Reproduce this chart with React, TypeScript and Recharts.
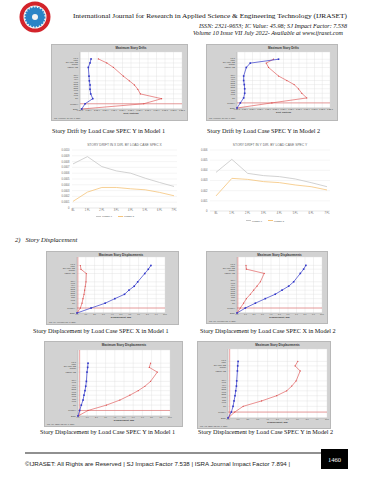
import React from 'react'
import {
  ScatterChart,
  Scatter,
  LineChart,
  Line,
  XAxis,
  YAxis,
  CartesianGrid,
  ReferenceLine,
} from 'recharts'

// ---------------------------------------------------------------------------
// Story data (bottom to top)
// ---------------------------------------------------------------------------

const STORIES = ['Base', 'PLINTH', 'GF', '1ST FLR', '2ND FLR', '3RD FLR', '4TH FLR', '5TH FLR', 'TERRACE', 'STAIRCASE ROOF', 'LIFT TOP']
const STORY_ELEV = [0, 3.4, 6.7, 9.8, 12.8, 15.6, 18.3, 21.3, 27, 29.9, 32.5]
const PLINTH_ELEV = 3.4

const DRIFT_TICKS = [0, 0.0001, 0.0002, 0.0003, 0.0004, 0.0005, 0.0006, 0.0007, 0.0008, 0.0009, 0.001, 0.0011, 0.0012]
const DISP_TICKS = [0, 1, 2, 3, 4, 5, 6, 7, 8, 9, 10]

// Story drift, SPEC Y
const DRIFT_M1_X = [0.00002, 0.00006, 0.00015, 0.000126, 0.000118, 0.000118, 0.00011, 0.000106, 0.000098, 0.000118, 0.00013]
const DRIFT_M1_Y = [0.00002, 0.00075, 0.00096, 0.00071, 0.00068, 0.00064, 0.00058, 0.00051, 0.000393, 0.000315, 0.000216]
const DRIFT_M2_X = [0, 0.000043, 0.000086, 0.000099, 0.000099, 0.000094, 0.000086, 0.000086, 0.00012, 0.000171, 0.000536]
const DRIFT_M2_Y = [0, 0.00045, 0.0009, 0.000836, 0.000793, 0.000737, 0.000643, 0.000536, 0.000407, 0.000377, 0.000471]

// Story displacement (mm)
const DISP_SX_M1_X = [0, 1.6, 3.2, 4.3, 5.4, 5.9, 6.5, 6.9, 7.7, 8.1, 8.4]
const DISP_SX_M1_Y = [0, 0.38, 0.57, 0.68, 0.8, 0.87, 0.94, 1.02, 1.06, 0.45, 0.38]
const DISP_SX_M2_X = [0, 0.98, 2.16, 3.33, 4.5, 5.3, 6.08, 6.67, 7.45, 7.84, 8.1]
const DISP_SX_M2_Y = [0, 0.39, 0.78, 1.1, 1.57, 1.96, 2.35, 2.75, 3.2, 1.1, 1.06]
const DISP_SY_M1_X = [0, 0.18, 0.36, 0.55, 0.65, 0.76, 0.84, 0.91, 0.98, 1.05, 1.09]
const DISP_SY_M1_Y = [0, 1.09, 3.09, 4.55, 5.64, 6.55, 7.27, 7.89, 8.62, 7.75, 7.89]
const DISP_SY_M2_X = [0, 0.34, 0.51, 0.61, 0.71, 0.78, 0.85, 0.88, 0.95, 0.98, 1.02]
const DISP_SY_M2_Y = [0, 0.68, 1.53, 3.39, 4.92, 5.93, 6.44, 6.88, 7.29, 6.78, 7.05]

// Comparison line charts
const CATEGORIES = ['BL', '1 FL', '2 FL', '3 FL', '4 FL', '5 FL', '6 FL', '7 FL']
const DRIFT_X_MODEL1 = [0.00076, 0.000886, 0.000714, 0.00064, 0.0006, 0.000514, 0.00044, 0.000371]
const DRIFT_X_MODEL2 = [0.000114, 0.000274, 0.000354, 0.000354, 0.000331, 0.000314, 0.000269, 0.000211]
const DRIFT_X_TICKS = [0, 0.0001, 0.0002, 0.0003, 0.0004, 0.0005, 0.0006, 0.0007, 0.0008, 0.0009, 0.001]
const DRIFT_Y_MODEL1 = [0.0038, 0.00508, 0.0037, 0.00348, 0.00338, 0.00315, 0.00279, 0.00239]
const DRIFT_Y_MODEL2 = [0.00148, 0.00321, 0.00311, 0.00289, 0.00279, 0.00256, 0.00239, 0.00207]
const DRIFT_Y_TICKS = [0, 0.001, 0.002, 0.003, 0.004, 0.005, 0.006]

const SERIF = '"Liberation Serif", "DejaVu Serif", serif'
const SANS = '"Liberation Sans", Arial, sans-serif'
const BLUE = '#3036c8'
const RED = '#dc4646'
const GREY_LINE = '#c6c6c6'
const ORANGE_LINE = '#f5c47a'

const fmtDrift = (v: number) => (v === 0 ? '0.0E+0' : v.toExponential(1).toUpperCase())
const fmtDisp = (v: number) => v.toFixed(1)

// ---------------------------------------------------------------------------
// ETABS style story plot
// ---------------------------------------------------------------------------

interface StoryChartProps {
  box: [number, number, number, number]
  plot: { l: number; r: number; t: number; b: number }
  title: string
  xTitle: string
  status: string
  xMax: number
  xTicks: number[]
  fmt: (v: number) => string
  yMax: number
  blue: number[]
  red: number[]
  refX?: number
}

const toPoints = (vals: number[]) => STORY_ELEV.map((e, i) => ({ x: vals[i], y: e }))

function StoryChart({ box, plot, title, xTitle, status, xMax, xTicks, fmt, yMax, blue, red, refX }: StoryChartProps) {
  const [left, top, width, height] = box
  const plotW = width - plot.l - plot.r
  return (
    <div style={{ position: 'absolute', left, top, width, height, background: '#d2d2d2', outline: '0.5px solid #b8b8b8' }}>
      <ScatterChart width={width} height={height} margin={{ top: plot.t, right: plot.r, bottom: 0, left: 0 }}>
        <CartesianGrid fill="#ffffff" stroke="#dedede" strokeWidth={0.4} />
        <XAxis
          type="number"
          dataKey="x"
          domain={[0, xMax]}
          ticks={xTicks}
          interval={0}
          tickFormatter={fmt}
          height={plot.b}
          tick={{ fontSize: 2, fill: '#444', fontFamily: SANS }}
          tickLine={false}
          tickSize={0}
          tickMargin={0.6}
          axisLine={{ stroke: '#9a9a9a', strokeWidth: 0.4 }}
        />
        <YAxis
          type="number"
          dataKey="y"
          domain={[0, yMax]}
          ticks={STORY_ELEV}
          interval={0}
          tickFormatter={(v: number) => STORIES[STORY_ELEV.indexOf(v)]}
          width={plot.l}
          tick={{ fontSize: 2.2, fill: '#444', fontFamily: SANS }}
          tickLine={false}
          tickSize={0}
          tickMargin={2}
          axisLine={{ stroke: '#9a9a9a', strokeWidth: 0.4 }}
        />
        <ReferenceLine y={PLINTH_ELEV} stroke={RED} strokeWidth={0.5} />
        {refX !== undefined && <ReferenceLine x={refX} stroke={RED} strokeWidth={0.5} />}
        <Scatter
          data={toPoints(red)}
          line={{ stroke: RED, strokeWidth: 0.6 }}
          shape={(p: any) => <circle cx={p.cx} cy={p.cy} r={0.6} fill={RED} />}
          isAnimationActive={false}
        />
        <Scatter
          data={toPoints(blue)}
          line={{ stroke: BLUE, strokeWidth: 0.7 }}
          shape={(p: any) => <rect x={p.cx - 0.8} y={p.cy - 0.8} width={1.6} height={1.6} fill={BLUE} />}
          isAnimationActive={false}
        />
      </ScatterChart>
      <div style={{ position: 'absolute', left: plot.l, width: plotW, top: 1.5, textAlign: 'center', fontSize: 3, fontWeight: 700, color: '#333', fontFamily: SANS, lineHeight: 1 }}>
        {title}
      </div>
      <div style={{ position: 'absolute', left: plot.l, width: plotW, top: height - plot.b + 3.3, textAlign: 'center', fontSize: 2.3, fontWeight: 700, color: '#333', fontFamily: SANS, lineHeight: 1 }}>
        {xTitle}
      </div>
      <div style={{ position: 'absolute', left: 2, bottom: 0.6, fontSize: 1.7, color: '#444', fontFamily: SANS, lineHeight: 1, whiteSpace: 'nowrap' }}>
        {status}
      </div>
    </div>
  )
}

// ---------------------------------------------------------------------------
// Model comparison line chart
// ---------------------------------------------------------------------------

interface CompareProps {
  left: number
  top: number
  width: number
  height: number
  title: string
  model1: number[]
  model2: number[]
  ticks: number[]
  decimals: number
  yWidth: number
  margin: { top: number; right: number; bottom: number; left: number }
  padding: { left: number; right: number }
  legendTop: number
  legendShift: number
}

function CompareChart({ left, top, width, height, title, model1, model2, ticks, decimals, yWidth, margin, padding, legendTop, legendShift }: CompareProps) {
  const data = CATEGORIES.map((c, i) => ({ story: c, m1: model1[i], m2: model2[i] }))
  const tick = { fontSize: 2.6, fill: '#666', fontFamily: SANS }
  return (
    <div style={{ position: 'absolute', left, top, width, height }}>
      <div style={{ position: 'absolute', left: margin.left + yWidth, right: margin.right, top: 1, textAlign: 'center', fontSize: 3.3, color: '#666', fontFamily: SANS, lineHeight: 1, whiteSpace: 'nowrap' }}>
        {title}
      </div>
      <LineChart width={width} height={height} data={data} margin={margin}>
        <CartesianGrid vertical={false} stroke="#e6e6e6" strokeWidth={0.4} />
        <XAxis
          dataKey="story"
          tick={tick}
          tickLine={false}
          tickSize={0}
          tickMargin={1.5}
          axisLine={{ stroke: '#d6d6d6', strokeWidth: 0.4 }}
          height={5}
          interval={0}
          padding={padding}
        />
        <YAxis
          domain={[ticks[0], ticks[ticks.length - 1]]}
          ticks={ticks}
          interval={0}
          tickFormatter={(v: number) => (v === 0 ? '0' : v.toFixed(decimals))}
          tick={tick}
          tickLine={false}
          tickSize={0}
          axisLine={false}
          width={yWidth}
          tickMargin={2.5}
        />
        <Line dataKey="m1" name="MODEL 1" stroke={GREY_LINE} strokeWidth={0.8} dot={false} isAnimationActive={false} />
        <Line dataKey="m2" name="MODEL 2" stroke={ORANGE_LINE} strokeWidth={0.8} dot={false} isAnimationActive={false} />
      </LineChart>
      <div style={{ position: 'absolute', left: 0, width, top: legendTop, display: 'flex', justifyContent: 'center', gap: 6, paddingLeft: legendShift, boxSizing: 'border-box', fontSize: 2.3, lineHeight: 1, color: '#666', fontFamily: SANS }}>
        <span style={{ display: 'flex', alignItems: 'center' }}>
          <span style={{ display: 'inline-block', width: 5, height: 0.8, marginRight: 1, background: GREY_LINE }} />
          <span>MODEL 1</span>
        </span>
        <span style={{ display: 'flex', alignItems: 'center' }}>
          <span style={{ display: 'inline-block', width: 5, height: 0.8, marginRight: 1, background: ORANGE_LINE }} />
          <span>MODEL 2</span>
        </span>
      </div>
    </div>
  )
}

function Caption({ x, y, text }: { x: number; y: number; text: string }) {
  return (
    <div style={{ position: 'absolute', left: x, top: y - 3.5, fontSize: 6.2, fontFamily: SERIF, color: '#111', lineHeight: 1, whiteSpace: 'nowrap' }}>
      {text}
    </div>
  )
}

export default function App() {
  return (
    <div style={{ position: 'absolute', left: 0, top: 0, width: 371, height: 480, background: '#fff', overflow: 'hidden' }}>
      {/* journal header */}
      <svg width={371} height={40} style={{ position: 'absolute', left: 0, top: 0 }}>
        <circle cx={35} cy={17} r={15.5} fill="#d3242b" />
        <circle cx={35} cy={17} r={11.5} fill="#f3f3f3" />
        <circle cx={35} cy={17} r={9.5} fill="#2b84c6" stroke="#2b84c6" strokeWidth={2} strokeDasharray="1.6 1.2" />
        <circle cx={35} cy={17} r={3} fill="#f3f3f3" />
        <text x={73} y={18} fontSize={6.8} fontFamily={SERIF} fill="#111" textLength={274} lengthAdjust="spacingAndGlyphs">
          International Journal for Research in Applied Science &amp; Engineering Technology (IJRASET)
        </text>
        <text x={199} y={28} fontSize={5.2} fontStyle="italic" fontFamily={SERIF} fill="#111" textLength={148} lengthAdjust="spacingAndGlyphs">
          ISSN: 2321-9653; IC Value: 45.98; SJ Impact Factor: 7.538
        </text>
        <text x={193} y={35} fontSize={5.2} fontStyle="italic" fontFamily={SERIF} fill="#111" textLength={150} lengthAdjust="spacingAndGlyphs">
          Volume 10 Issue VII July 2022- Available at www.ijraset.com
        </text>
      </svg>

      <StoryChart
        box={[52, 45, 135, 75]}
        plot={{ l: 28, r: 5, t: 7, b: 11 }}
        title="Maximum Story Drifts"
        xTitle="Drift, Unitless"
        status="Max: (0.000960, GF)   Min: (0, Base)"
        xMax={0.0012}
        xTicks={DRIFT_TICKS}
        fmt={fmtDrift}
        yMax={37}
        blue={DRIFT_M1_X}
        red={DRIFT_M1_Y}
      />
      <StoryChart
        box={[207, 45, 130, 75]}
        plot={{ l: 30, r: 7, t: 7, b: 12 }}
        title="Maximum Story Drifts"
        xTitle="Drift, Unitless"
        status="Max: (0.000900, GF)   Min: (0, Base)"
        xMax={0.0012}
        xTicks={DRIFT_TICKS}
        fmt={fmtDrift}
        yMax={37.3}
        blue={DRIFT_M2_X}
        red={DRIFT_M2_Y}
      />
      <Caption x={52} y={131} text="Story Drift by Load Case SPEC Y in Model 1" />
      <Caption x={207} y={131} text="Story Drift by Load Case SPEC Y in Model 2" />

      <CompareChart
        left={40}
        top={143}
        width={140}
        height={79}
        title="STORY DRIFT IN X DIR. BY LOAD CASE SPEC X"
        model1={DRIFT_X_MODEL1}
        model2={DRIFT_X_MODEL2}
        ticks={DRIFT_X_TICKS}
        decimals={4}
        yWidth={32}
        margin={{ top: 7, right: 3, bottom: 9, left: 0 }}
        padding={{ left: 1, right: 3 }}
        legendTop={72}
        legendShift={10}
      />
      <CompareChart
        left={195}
        top={143}
        width={140}
        height={82}
        title="STORY DRIFT IN Y DIR. BY LOAD CASE SPEC Y"
        model1={DRIFT_Y_MODEL1}
        model2={DRIFT_Y_MODEL2}
        ticks={DRIFT_Y_TICKS}
        decimals={3}
        yWidth={15}
        margin={{ top: 7, right: 5, bottom: 9, left: 0 }}
        padding={{ left: 6, right: 3 }}
        legendTop={76.5}
        legendShift={-4}
      />

      <div style={{ position: 'absolute', left: 15, top: 237, fontSize: 6.6, fontStyle: 'italic', fontFamily: SERIF, color: '#111', lineHeight: 1, whiteSpace: 'nowrap' }}>
        2)&nbsp;&nbsp;&nbsp;Story Displacement
      </div>

      <StoryChart
        box={[47, 252, 131, 72]}
        plot={{ l: 30, r: 13, t: 5, b: 11 }}
        title="Maximum Story Displacements"
        xTitle="Displacement, mm"
        status="Max: (8.4, LIFT TOP)   Min: (0, Base)"
        xMax={10}
        xTicks={DISP_TICKS}
        fmt={fmtDisp}
        yMax={38.3}
        blue={DISP_SX_M1_X}
        red={DISP_SX_M1_Y}
        refX={0.1}
      />
      <StoryChart
        box={[207, 252, 120, 71]}
        plot={{ l: 30, r: 5, t: 5, b: 10 }}
        title="Maximum Story Displacements"
        xTitle="Displacement, mm"
        status="Max: (8.1, LIFT TOP)   Min: (0, Base)"
        xMax={10}
        xTicks={DISP_TICKS}
        fmt={fmtDisp}
        yMax={38.2}
        blue={DISP_SX_M2_X}
        red={DISP_SX_M2_Y}
        refX={0.1}
      />
      <Caption x={33} y={331} text="Story Displacement by Load Case SPEC X in Model 1" />
      <Caption x={200} y={331} text="Story Displacement by Load Case SPEC X in Model 2" />

      <StoryChart
        box={[45, 342, 137, 84]}
        plot={{ l: 33, r: 12, t: 8, b: 10 }}
        title="Maximum Story Displacements"
        xTitle="Displacement, mm"
        status="Max: (8.6, TERRACE)   Min: (0, Base)"
        xMax={10}
        xTicks={DISP_TICKS}
        fmt={fmtDisp}
        yMax={40.6}
        blue={DISP_SY_M1_X}
        red={DISP_SY_M1_Y}
        refX={0.18}
      />
      <StoryChart
        box={[198, 342, 132, 86]}
        plot={{ l: 30, r: 3, t: 7, b: 10 }}
        title="Maximum Story Displacements"
        xTitle="Displacement, mm"
        status="Max: (7.3, TERRACE)   Min: (0, Base)"
        xMax={10}
        xTicks={DISP_TICKS}
        fmt={fmtDisp}
        yMax={39.6}
        blue={DISP_SY_M2_X}
        red={DISP_SY_M2_Y}
        refX={0.17}
      />
      <Caption x={40} y={432} text="Story Displacement by Load Case SPEC Y in Model 1" />
      <Caption x={198} y={432} text="Story Displacement by Load Case SPEC Y in Model 2" />

      {/* footer */}
      <svg width={371} height={30} style={{ position: 'absolute', left: 0, top: 446 }}>
        <line x1={25} x2={333} y1={7} y2={7} stroke="#222" strokeWidth={1.2} />
        <text x={25} y={20} fontSize={5.4} fontFamily={SANS} fill="#222" textLength={265} lengthAdjust="spacingAndGlyphs">
          ©IJRASET: All Rights are Reserved | SJ Impact Factor 7.538 | ISRA Journal Impact Factor 7.894 |
        </text>
        <rect x={321} y={3} width={27} height={20} fill="#000" />
        <text x={334.5} y={16} fontSize={6.5} fontFamily={SERIF} fill="#fff" textAnchor="middle">
          1460
        </text>
      </svg>
    </div>
  )
}
